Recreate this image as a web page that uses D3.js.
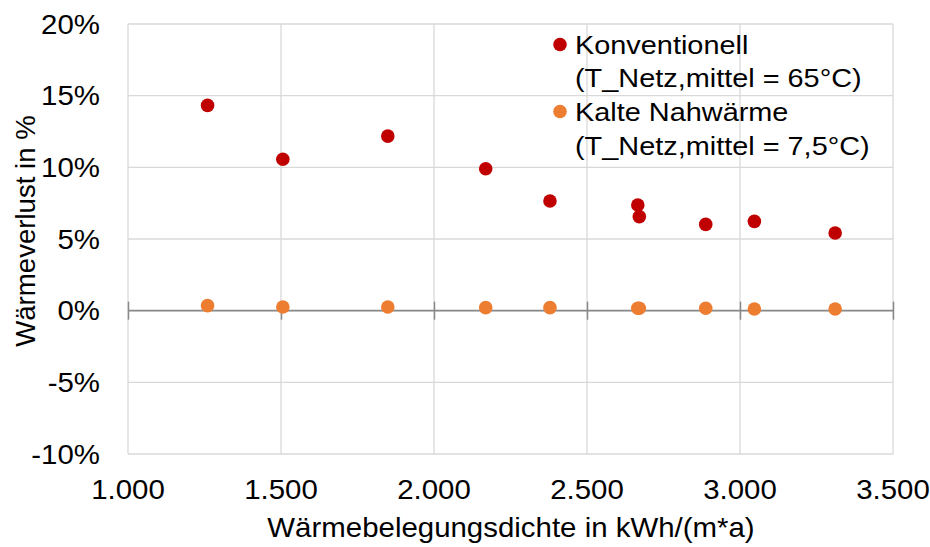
<!DOCTYPE html>
<html><head><meta charset="utf-8">
<script src="https://cdn.jsdelivr.net/npm/d3@7"></script>
<style>body{margin:0;background:#fff}svg{display:block}text{font-family:"Liberation Sans",Arial,sans-serif;fill:#000}</style>
</head><body><svg id="c" width="930" height="547"></svg>
<script>
const xTicks = [1000, 1500, 2000, 2500, 3000, 3500];
const yTicks = [-0.10, -0.05, 0, 0.05, 0.10, 0.15, 0.20];
const konvX = [1260, 1506, 1849, 2169, 2379, 2666, 2671, 2888, 3047, 3311];
const konvY = [0.1432, 0.1056, 0.1218, 0.0990, 0.0765, 0.0737, 0.0656, 0.0602, 0.0623, 0.0542];
const kaltX = [1260, 1506, 1849, 2169, 2379, 2666, 2671, 2888, 3047, 3311];
const kaltY = [0.0035, 0.0026, 0.0026, 0.0021, 0.0021, 0.0017, 0.0017, 0.0017, 0.0012, 0.0012];
const seriesNames = [["Konventionell", "(T_Netz,mittel = 65°C)"], ["Kalte Nahwärme", "(T_Netz,mittel = 7,5°C)"]];
const colors = ["#C00000", "#ED7D31"];
const xTitle = "Wärmebelegungsdichte in kWh/(m*a)";
const yTitle = "Wärmeverlust in %";

const svg = d3.select("#c");
const x = d3.scaleLinear().domain([1000, 3500]).range([128, 893]);
const y = d3.scaleLinear().domain([-0.10, 0.20]).range([454, 24]);
const fmtX = d => d3.format(",")(d).replace(/,/g, ".");
const fmtY = d => Math.round(d * 100) + "%";
const SX = 1.09;

// gridlines
svg.append("g").selectAll("line").data(yTicks).join("line")
  .attr("x1", x(1000)).attr("x2", x(3500)).attr("y1", d => y(d)).attr("y2", d => y(d))
  .attr("stroke", "#D9D9D9").attr("stroke-width", 1.3);
svg.append("g").selectAll("line").data(xTicks).join("line")
  .attr("y1", y(0.20)).attr("y2", y(-0.10)).attr("x1", d => x(d)).attr("x2", d => x(d))
  .attr("stroke", "#D9D9D9").attr("stroke-width", 1.3);

// zero axis with ticks
const axisG = svg.append("g").attr("transform", `translate(0,${y(0)})`)
  .call(d3.axisBottom(x).tickValues(xTicks).tickSize(9).tickFormat(""));
axisG.select(".domain").remove();
axisG.selectAll(".tick line").attr("stroke", "#898989").attr("stroke-width", 1.5).attr("y1", -9);
svg.append("line").attr("x1", x(1000)).attr("x2", x(3500)).attr("y1", y(0)).attr("y2", y(0))
  .attr("stroke", "#898989").attr("stroke-width", 1.8);

// tick labels
svg.append("g").selectAll("text").data(yTicks).join("text")
  .attr("transform", d => `translate(100,${y(d)}) scale(${SX},1)`)
  .attr("dy", "0.36em").attr("text-anchor", "end")
  .attr("font-size", 27).text(fmtY);
svg.append("g").selectAll("text").data(xTicks).join("text")
  .attr("transform", d => `translate(${x(d)},499) scale(${SX},1)`)
  .attr("text-anchor", "middle")
  .attr("font-size", 27).text(fmtX);

// titles
svg.append("text").attr("transform", `translate(511,537) scale(${SX},1)`).attr("text-anchor", "middle")
  .attr("font-size", 27).text(xTitle);
svg.append("text").attr("transform", "translate(35,231) rotate(-90)").attr("text-anchor", "middle")
  .attr("font-size", 27.6).text(yTitle);

// points
const data = [konvX.map((v, i) => [v, konvY[i]]), kaltX.map((v, i) => [v, kaltY[i]])];
data.forEach((pts, s) => {
  svg.append("g").selectAll("circle").data(pts).join("circle")
    .attr("cx", d => x(d[0])).attr("cy", d => y(d[1])).attr("r", 6.8)
    .attr("fill", colors[s]);
});

// legend
const legY = [[54, 87], [121, 155]];
seriesNames.forEach((lines, s) => {
  svg.append("circle").attr("cx", 560).attr("cy", legY[s][0] - 9.5).attr("r", 6.8).attr("fill", colors[s]);
  lines.forEach((t, j) => {
    svg.append("text").attr("transform", `translate(575,${legY[s][j]}) scale(${SX},1)`)
      .attr("font-size", 26.5).text(t);
  });
});
</script></body></html>
